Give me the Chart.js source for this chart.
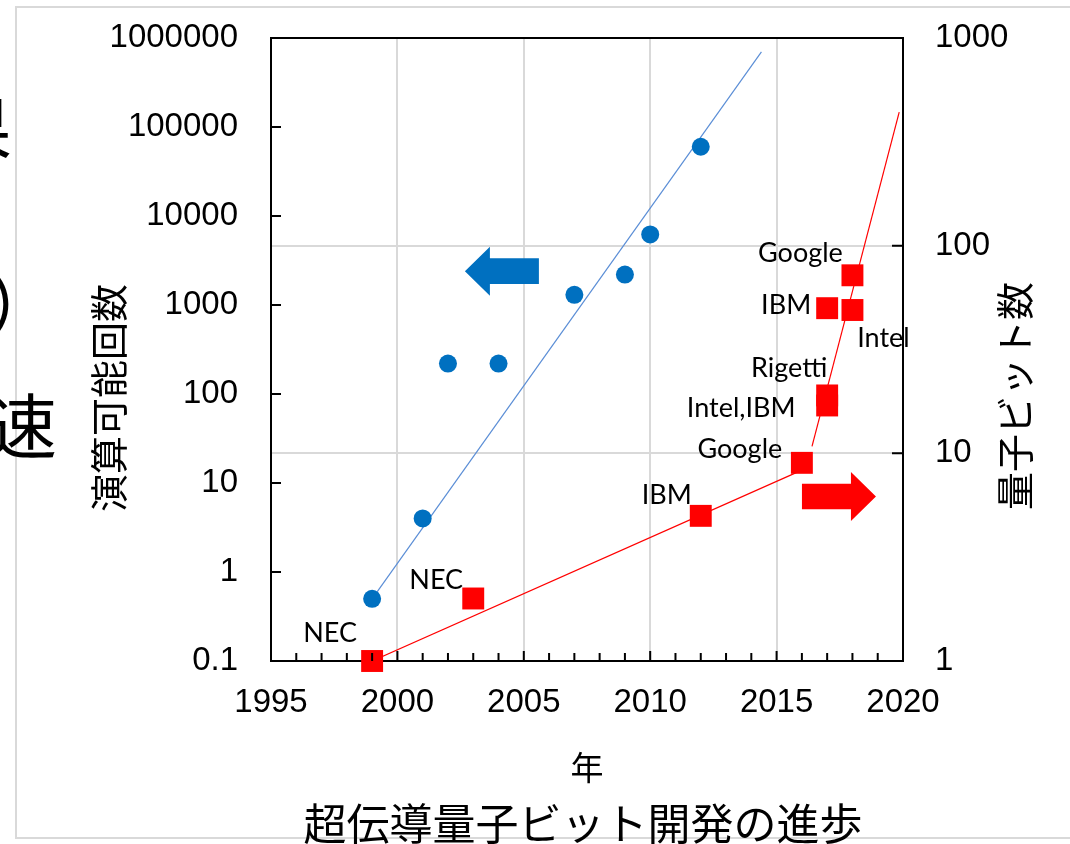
<!DOCTYPE html>
<html lang="ja">
<head>
<meta charset="utf-8">
<title>超伝導量子ビット開発の進歩</title>
<script src="https://cdn.jsdelivr.net/npm/chart.js@4.4.1/dist/chart.umd.min.js"></script>
<style>
html,body{margin:0;padding:0;background:#fff;}
#wrap{position:relative;width:1070px;height:844px;overflow:hidden;background:#fff;}
#frame{position:absolute;left:15px;top:6px;width:1080px;height:833px;border:2px solid #d9d9d9;box-sizing:border-box;}
.side{position:absolute;font-family:"Noto Sans CJK JP";font-size:70px;line-height:1;color:#000;}
canvas{position:absolute;left:0;top:0;}
</style>
</head>
<body>
<div id="wrap">
  <div id="frame"></div>
  <span class="side" style="left:-58px;top:90px">果</span>
  <span class="side" style="left:-13px;top:266px">）</span>
  <span class="side" style="left:-13px;top:388px">速</span>
  <canvas id="chart" width="1070" height="844"></canvas>
</div>
<script>
// blue: 演算可能回数 (left axis)
const blueYears = [1999, 2001, 2002, 2004, 2007, 2009, 2010, 2012];
const blueOps = [0.5, 4, 220, 220, 1300, 2200, 6200, 60000];
const blueTrendYears = [1999, 2014.4];
const blueTrendOps = [0.5, 700000];

// red: 量子ビット数 (right axis)
const redYears = [1999, 2003, 2012, 2016, 2017, 2017, 2017, 2018, 2018];
const redQubits = [1, 2, 5, 9, 17, 19, 50, 49, 72];
const redNames = ['NEC', 'NEC', 'IBM', 'Google', 'Intel,IBM', 'Rigetti', 'IBM', 'Intel', 'Google'];
const redLowYears = [1999, 2016];
const redLowQubits = [1, 8.3];
const redHighYears = [2016.4, 2019.85];
const redHighQubits = [10.8, 440];

// ticks
const xTicks = [1995, 2000, 2005, 2010, 2015, 2020];
const leftTicks = [0.1, 1, 10, 100, 1000, 10000, 100000, 1000000];
const rightTicks = [1, 10, 100, 1000];

// label offsets (px) from each red square
const labelOffsets = [[-42, -28], [-37, -18], [-34, -21], [-62, -14], [-86, 3], [-38, -27], [-41, -3], [31, 28], [-52, -22]];

const BLUE = '#0070C0';
const RED = '#FF0000';
const GRID = '#d9d9d9';

const pts = (xs, ys) => xs.map((x, i) => ({x: x, y: ys[i]}));

// arrows anchored on data coords (tip)
const arrows = [
  {x: 2002.67, y: 2400, axis: 'y', dir: -1, color: BLUE},
  {x: 2018.93, y: 6.2, axis: 'y2', dir: 1, color: RED}
];

const noPad = s => { s.paddingTop = 0; s.paddingBottom = 0; s.paddingLeft = 0; s.paddingRight = 0; };

const decor = {
  id: 'decor',
  afterDatasetsDraw(chart){
    const {ctx, scales} = chart;
    ctx.save();
    arrows.forEach(ar=>{
      const tx = scales.x.getPixelForValue(ar.x);
      const ty = scales[ar.axis].getPixelForValue(ar.y);
      const hb = tx - ar.dir * 25, be = tx - ar.dir * 74;
      ctx.beginPath();
      ctx.moveTo(tx, ty);
      ctx.lineTo(hb, ty - 24.5); ctx.lineTo(hb, ty - 12.8);
      ctx.lineTo(be, ty - 12.8); ctx.lineTo(be, ty + 12.8);
      ctx.lineTo(hb, ty + 12.8); ctx.lineTo(hb, ty + 24.5);
      ctx.closePath();
      ctx.fillStyle = ar.color; ctx.fill();
    });
    // point labels
    const meta = chart.getDatasetMeta(1);
    ctx.font = '27px Lato';
    ctx.fillStyle = '#000'; ctx.textAlign = 'center'; ctx.textBaseline = 'middle';
    meta.data.forEach((p, i)=>{
      const o = labelOffsets[i];
      ctx.fillText(redNames[i], p.x + o[0], p.y + o[1]);
    });
    ctx.restore();
  },
  afterDraw(chart){
    const {ctx, chartArea: a, scales} = chart;
    ctx.save();
    ctx.strokeStyle = '#000'; ctx.lineWidth = 2;
    ctx.beginPath();
    // top border
    ctx.moveTo(a.left - 1, a.top); ctx.lineTo(a.right + 1, a.top);
    // inward ticks, left axis
    leftTicks.forEach(v=>{ const y = scales.y.getPixelForValue(v); ctx.moveTo(a.left, y); ctx.lineTo(a.left + 10, y); });
    // inward ticks, right axis
    rightTicks.forEach(v=>{ const y = scales.y2.getPixelForValue(v); ctx.moveTo(a.right, y); ctx.lineTo(a.right - 11, y); });
    // yearly ticks on x axis
    for(let yr = scales.x.min; yr <= scales.x.max; yr++){
      const x = scales.x.getPixelForValue(yr);
      const len = (yr % 5 === 0) ? 10 : 8;
      ctx.moveTo(x, a.bottom); ctx.lineTo(x, a.bottom - len);
    }
    ctx.stroke();

    // titles
    ctx.fillStyle = '#000'; ctx.textAlign = 'center'; ctx.textBaseline = 'middle';
    ctx.font = '33px "Noto Sans CJK JP"';
    ctx.fillText('年', (a.left + a.right) / 2, 767);
    ctx.font = '43px "Noto Sans CJK JP"';
    ctx.fillText('超伝導量子ビット開発の進歩', 583, 824);
    ctx.font = '38px "Noto Sans CJK JP"';
    ctx.save(); ctx.translate(109, 398); ctx.rotate(-Math.PI / 2); ctx.fillText('演算可能回数', 0, 0); ctx.restore();
    ctx.save(); ctx.translate(1015, 396); ctx.rotate(-Math.PI / 2); ctx.fillText('量子ビット数', 0, 0); ctx.restore();
    ctx.restore();
  }
};

Chart.defaults.font.family = '"Liberation Sans", Arial, sans-serif';
Chart.defaults.font.size = 33;
Chart.defaults.color = '#000';

new Chart(document.getElementById('chart').getContext('2d'), {
  type: 'scatter',
  data: {
    datasets: [
      {label: '演算可能回数', data: pts(blueYears, blueOps), yAxisID: 'y', order: 0, clip: false,
        pointStyle: 'circle', pointRadius: 9, backgroundColor: BLUE, borderColor: BLUE, borderWidth: 0},
      {label: '量子ビット数', data: pts(redYears, redQubits), yAxisID: 'y2', order: 0, clip: false,
        pointStyle: 'rect', pointRadius: 15.5, backgroundColor: RED, borderColor: RED, borderWidth: 0},
      {type: 'line', data: pts(blueTrendYears, blueTrendOps), yAxisID: 'y', order: 2,
        borderColor: '#5B8ED6', borderWidth: 1.2, pointRadius: 0, fill: false},
      {type: 'line', data: pts(redLowYears, redLowQubits), yAxisID: 'y2', order: 2,
        borderColor: RED, borderWidth: 1.2, pointRadius: 0, fill: false},
      {type: 'line', data: pts(redHighYears, redHighQubits), yAxisID: 'y2', order: 2,
        borderColor: RED, borderWidth: 1.2, pointRadius: 0, fill: false}
    ]
  },
  options: {
    responsive: false,
    animation: false,
    layout: {padding: {top: 38, left: 0, right: 0, bottom: 0}},
    plugins: {legend: {display: false}, tooltip: {enabled: false}},
    scales: {
      x: {
        type: 'linear', min: 1995, max: 2020,
        afterBuildTicks: s => { s.ticks = xTicks.map(v => ({value: v})); },
        afterFit: s => { s.height = 183; noPad(s); },
        ticks: {padding: 22, maxRotation: 0, callback: v => String(v)},
        grid: {display: true, color: GRID, lineWidth: 2, drawTicks: false},
        border: {display: true, color: '#000', width: 2}
      },
      y: {
        type: 'logarithmic', position: 'left', min: 0.1, max: 1000000,
        afterBuildTicks: s => { s.ticks = leftTicks.map(v => ({value: v})); },
        afterFit: s => { s.width = 271; noPad(s); },
        ticks: {padding: 33, callback: v => String(v)},
        grid: {display: false, drawTicks: false},
        border: {display: true, color: '#000', width: 2}
      },
      y2: {
        type: 'logarithmic', position: 'right', min: 1, max: 1000,
        afterBuildTicks: s => { s.ticks = rightTicks.map(v => ({value: v})); },
        afterFit: s => { s.width = 167; noPad(s); },
        ticks: {padding: 32, callback: v => String(v)},
        grid: {display: true, color: GRID, lineWidth: 2, drawTicks: false},
        border: {display: true, color: '#000', width: 2}
      }
    }
  },
  plugins: [decor]
});
</script>
</body>
</html>
